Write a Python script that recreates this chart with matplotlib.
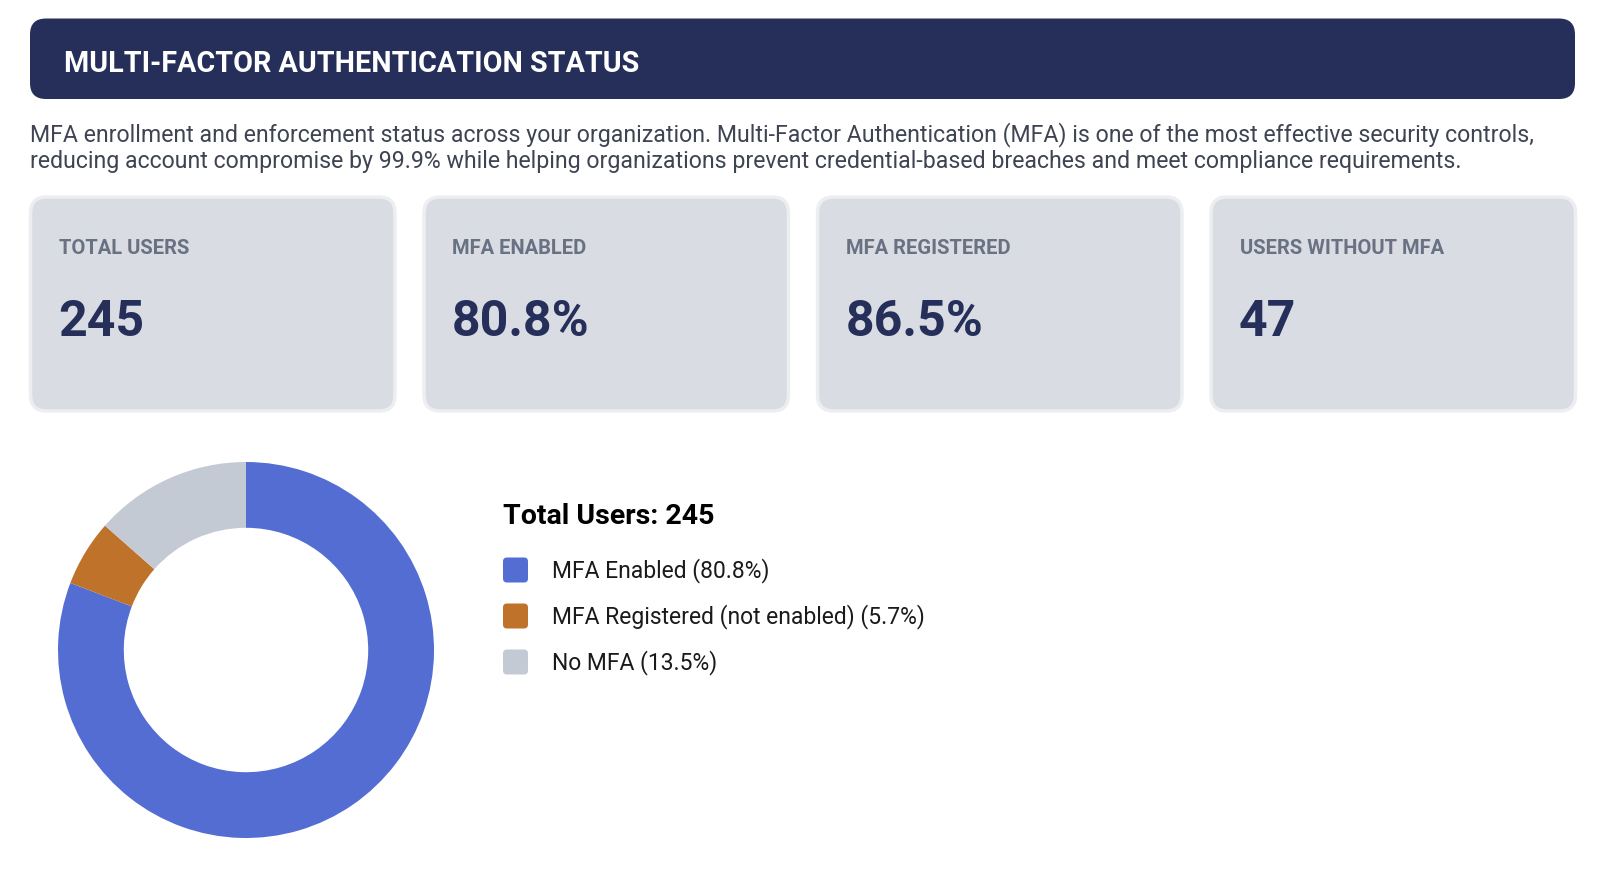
import matplotlib

matplotlib.use("Agg")
import matplotlib.pyplot as plt
from matplotlib.patches import FancyBboxPatch

plt.rcParams["font.family"] = ["Roboto", "DejaVu Sans"]

# --- data ---
title = "MULTI-FACTOR AUTHENTICATION STATUS"
description = [
    "MFA enrollment and enforcement status across your organization. Multi-Factor Authentication (MFA) "
    "is one of the most effective security controls,",
    "reducing account compromise by 99.9% while helping organizations prevent credential-based breaches "
    "and meet compliance requirements.",
]
card_labels = ["TOTAL USERS", "MFA ENABLED", "MFA REGISTERED", "USERS WITHOUT MFA"]
card_values = ["245", "80.8%", "86.5%", "47"]

total_users = 245
segment_labels = ["MFA Enabled", "MFA Registered (not enabled)", "No MFA"]
segment_pcts = [80.8, 5.7, 13.5]
segment_colors = ["#536dd3", "#bf7229", "#c4cad4"]

NAVY = "#252f5a"
W, H = 1600, 876

fig = plt.figure(figsize=(W / 100, H / 100), dpi=100)
fig.patch.set_facecolor("white")

# full-figure canvas in pixel units
bg = fig.add_axes([0, 0, 1, 1])
bg.set_xlim(0, W)
bg.set_ylim(H, 0)
bg.axis("off")

# header bar
bg.add_patch(FancyBboxPatch((30, 18.5), 1545, 80.5, boxstyle="round,pad=0,rounding_size=16",
                            facecolor=NAVY, edgecolor="none"))
bg.text(64, 63.5, title, color="white", fontsize=20.7, fontweight="bold", va="center", ha="left")

# description
for i, line in enumerate(description):
    bg.text(30, 135 + i * 26.5, line, color="#3e4452", fontsize=16.65, va="center", ha="left")

# KPI cards
card_x = [30.5, 424, 817.5, 1211]
card_w, card_top, card_h = 364.5, 197, 214
for x, lab, val in zip(card_x, card_labels, card_values):
    bg.add_patch(FancyBboxPatch((x, card_top), card_w, card_h, boxstyle="round,pad=0,rounding_size=16",
                                facecolor="#d9dde3", edgecolor="#eceef2", linewidth=2.5))
    bg.text(x + 28.5, 248, lab, color="#697282", fontsize=14.5, fontweight="bold", va="center", ha="left")
    bg.text(x + 28, 323, val, color=NAVY, fontsize=36, fontweight="bold", va="center", ha="left")

# donut
cx, cy, r = 246, 650, 188
ax = fig.add_axes([(cx - r) / W, (H - cy - r) / H, 2 * r / W, 2 * r / H])
ax.pie(segment_pcts, colors=segment_colors, startangle=90, counterclock=False,
       radius=1.0, wedgeprops=dict(width=0.35, edgecolor="none"))
ax.set_xlim(-1, 1)
ax.set_ylim(-1, 1)
ax.set_aspect("equal")
ax.axis("off")

# legend
bg.text(503, 516, f"Total Users: {total_users}", color="black", fontsize=20.5, fontweight="bold",
        va="center", ha="left")
for i, (lab, pct, col) in enumerate(zip(segment_labels, segment_pcts, segment_colors)):
    y = 570 + i * 46
    bg.add_patch(FancyBboxPatch((503, y - 12.5), 25, 25, boxstyle="round,pad=0,rounding_size=4",
                                facecolor=col, edgecolor="none"))
    bg.text(552, y + 1, f"{lab} ({pct}%)", color="#1a1a1a", fontsize=16.5, va="center", ha="left")

fig.savefig("out.png", dpi=100)
